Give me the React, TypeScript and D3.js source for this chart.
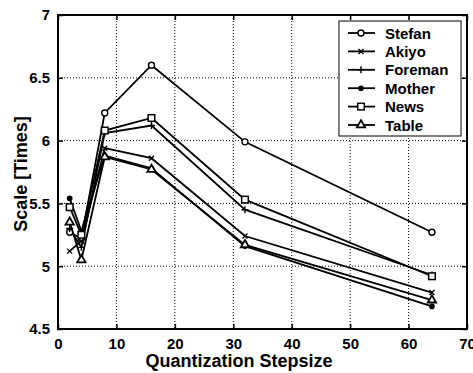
import React, { useEffect, useRef } from 'react';
import * as d3 from 'd3';

const width = 473;
const height = 373;
const margin = { top: 15, right: 6, bottom: 44, left: 58 };

const steps = [2, 4, 8, 16, 32, 64];
const stefan = [5.27, 5.22, 6.22, 6.6, 5.99, 5.27];
const akiyo = [5.12, 5.2, 5.94, 5.86, 5.24, 4.79];
const foreman = [5.3, 5.15, 6.06, 6.12, 5.45, 4.93];
const mother = [5.54, 5.28, 5.88, 5.78, 5.16, 4.68];
const news = [5.47, 5.25, 6.08, 6.18, 5.53, 4.92];
const table = [5.35, 5.05, 5.87, 5.77, 5.17, 4.73];

const seriesNames = ['Stefan', 'Akiyo', 'Foreman', 'Mother', 'News', 'Table'];
const seriesValues = [stefan, akiyo, foreman, mother, news, table];
const markers = ['circle', 'x', 'plus', 'dot', 'square', 'triangle'];

const xTicks = [0, 10, 20, 30, 40, 50, 60, 70];
const yTicks = [4.5, 5, 5.5, 6, 6.5, 7];

const font = 'Arial, "Liberation Sans", sans-serif';

const drawMarker = (g: any, kind: string, cx: number, cy: number) => {
  const m = g.append('g').attr('transform', `translate(${cx},${cy})`);
  if (kind === 'circle') {
    m.append('circle').attr('r', 3).attr('fill', 'white').attr('stroke', 'black').attr('stroke-width', 1.4);
  } else if (kind === 'x') {
    m.append('path').attr('d', 'M-2.5,-2.5L2.5,2.5M-2.5,2.5L2.5,-2.5').attr('stroke', 'black').attr('stroke-width', 1.4);
  } else if (kind === 'plus') {
    m.append('path').attr('d', 'M-3.5,0H3.5M0,-3.5V3.5').attr('stroke', 'black').attr('stroke-width', 1.4);
  } else if (kind === 'dot') {
    m.append('circle').attr('r', 2.8).attr('fill', 'black');
  } else if (kind === 'square') {
    m.append('rect').attr('x', -3.3).attr('y', -3.3).attr('width', 6.6).attr('height', 6.6)
      .attr('fill', 'white').attr('stroke', 'black').attr('stroke-width', 1.5);
  } else if (kind === 'triangle') {
    m.append('path').attr('d', d3.symbol(d3.symbolTriangle, 30)()).attr('fill', 'white')
      .attr('stroke', 'black').attr('stroke-width', 1.8);
  }
};

export default function App() {
  const ref = useRef<SVGSVGElement>(null);

  useEffect(() => {
    if (!ref.current) return;
    const root = d3.select(ref.current);
    root.selectAll('*').remove();

    const w = width - margin.left - margin.right;
    const h = height - margin.top - margin.bottom;
    const x = d3.scaleLinear().domain([0, 70]).range([0, w]);
    const y = d3.scaleLinear().domain([4.5, 7]).range([h, 0]);

    root.append('rect').attr('width', width).attr('height', height).attr('fill', 'white');

    const svg = root.append('g').attr('transform', `translate(${margin.left},${margin.top})`);

    // dotted grid
    svg.selectAll('line.gx')
      .data(xTicks.slice(1, -1))
      .enter()
      .append('line')
      .attr('x1', (d) => x(d)).attr('x2', (d) => x(d))
      .attr('y1', 0).attr('y2', h)
      .attr('stroke', 'black').attr('stroke-width', 1).attr('stroke-dasharray', '1,2');
    svg.selectAll('line.gy')
      .data(yTicks.slice(1, -1))
      .enter()
      .append('line')
      .attr('y1', (d) => y(d)).attr('y2', (d) => y(d))
      .attr('x1', 0).attr('x2', w)
      .attr('stroke', 'black').attr('stroke-width', 1).attr('stroke-dasharray', '1,2');

    // axes, inner ticks on all four sides
    const styleAxis = (g: any) => {
      g.select('.domain').remove();
      g.selectAll('line').attr('stroke', 'black').attr('stroke-width', 1.5);
      g.selectAll('text').attr('font-family', font).attr('font-weight', 'bold')
        .attr('font-size', 15).attr('fill', 'black');
    };
    svg.append('g').attr('transform', `translate(0,${h})`)
      .call(d3.axisBottom(x).tickValues(xTicks).tickSize(-5).tickPadding(9).tickFormat(d3.format('d')))
      .call(styleAxis);
    svg.append('g')
      .call(d3.axisTop(x).tickValues(xTicks).tickSize(-5).tickFormat(() => ''))
      .call(styleAxis);
    svg.append('g')
      .call(d3.axisLeft(y).tickValues(yTicks).tickSize(-5).tickPadding(8).tickFormat(d3.format('')))
      .call(styleAxis);
    svg.append('g').attr('transform', `translate(${w},0)`)
      .call(d3.axisRight(y).tickValues(yTicks).tickSize(-5).tickFormat(() => ''))
      .call(styleAxis);

    svg.append('rect').attr('width', w).attr('height', h)
      .attr('fill', 'none').attr('stroke', 'black').attr('stroke-width', 2);

    // series
    const line = d3.line<number>().x((_, i) => x(steps[i])).y((d) => y(d));
    seriesValues.forEach((vals) => {
      svg.append('path').datum(vals).attr('d', line)
        .attr('fill', 'none').attr('stroke', 'black').attr('stroke-width', 1.8);
    });
    seriesValues.forEach((vals, si) => {
      vals.forEach((v, i) => drawMarker(svg, markers[si], x(steps[i]), y(v)));
    });

    // legend
    const legend = svg.append('g').attr('transform', `translate(${339 - margin.left},${21 - margin.top})`);
    legend.append('rect').attr('width', 122).attr('height', 115)
      .attr('fill', 'white').attr('stroke', 'black').attr('stroke-width', 1);
    seriesNames.forEach((name, i) => {
      const ly = 12 + i * 18.4;
      legend.append('line').attr('x1', 9).attr('x2', 36).attr('y1', ly).attr('y2', ly)
        .attr('stroke', 'black').attr('stroke-width', 1.8);
      drawMarker(legend, markers[i], 22, ly);
      legend.append('text').attr('x', 46).attr('y', ly + 5.5)
        .attr('font-family', font).attr('font-weight', 'bold').attr('font-size', 15)
        .text(name);
    });

    // axis labels
    root.append('text').attr('x', 239).attr('y', 367).attr('text-anchor', 'middle')
      .attr('font-family', font).attr('font-weight', 'bold').attr('font-size', 18)
      .text('Quantization Stepsize');
    root.append('text').attr('transform', `translate(27,174) rotate(-90)`).attr('text-anchor', 'middle')
      .attr('font-family', font).attr('font-weight', 'bold').attr('font-size', 18)
      .text('Scale [Times]');
  }, []);

  return (
    <svg ref={ref} width={width} height={height} style={{ position: 'absolute', left: 0, top: 0 }} />
  );
}
